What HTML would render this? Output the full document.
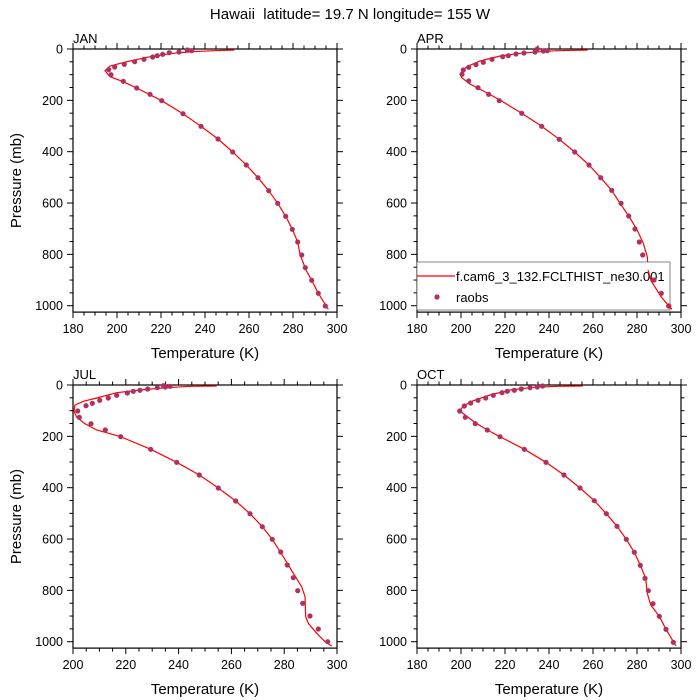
<!DOCTYPE html>
<html><head><meta charset="utf-8"><style>
body{margin:0;background:#fff}
svg{display:block;font-family:"Liberation Sans",sans-serif}
</style></head><body>
<svg id="s" width="700" height="700" xmlns="http://www.w3.org/2000/svg">
<text x="350" y="19" font-size="15" text-anchor="middle">Hawaii &#160;latitude= 19.7 N longitude= 155 W</text>
</svg>
<script>
const S=document.getElementById('s');let h='';
const P=[
 {x0:73,y0:49,tmin:180,name:'JAN',ox:0,oy:20,
  pts:[[575,92],[562,90],[537,96],[508,98],[488,103],[472,107],[458,111],[432,118],[404,125],[373,133],[344,141],[326,149],[333,164],[370,184],[410,204],[450,223],[485,242],[549,281],[603,319],[654,357],[698,396],[739,435],[774,473],[806,512],[833,550],[857,589],[877,628],[893,666],[905,705],[916,743],[935,781],[955,820],[976,858]],
  line:[[703,90],[640,92],[580,95],[520,100],[450,110],[380,125],[330,138],[315,152],[330,170],[370,185],[410,204],[485,242],[549,281],[603,319],[654,357],[698,396],[739,435],[774,473],[806,512],[833,550],[857,589],[877,628],[893,666],[900,703],[918,750],[935,781],[955,820],[985,868]]},
 {x0:417,y0:49,tmin:180,name:'APR',ox:400,oy:30,
  pts:[[412,57],[430,63],[442,62],[405,66],[372,69],[348,72],[325,77],[308,80],[276,88],[250,97],[228,104],[206,112],[190,120],[186,133],[206,153],[234,173],[266,193],[298,212],[365,250],[425,289],[478,328],[524,366],[567,405],[602,443],[635,481],[663,520],[686,558],[705,597],[718,636],[728,675],[742,713],[762,751],[784,790],[806,828]],
  line:[[563,60],[470,62],[420,65],[360,70],[300,78],[240,93],[200,110],[182,130],[185,143],[210,162],[250,183],[300,210],[365,250],[425,289],[478,328],[524,366],[567,405],[602,443],[635,481],[660,520],[686,558],[710,597],[730,640],[742,680],[744,713],[762,751],[784,790],[815,838]],legend:1},
 {x0:73,y0:385,tmin:200,name:'JUL',ox:0,oy:340,
  pts:[[983,905],[955,867],[930,828],[908,790],[893,752],[880,713],[862,675],[842,636],[817,598],[787,560],[750,521],[707,483],[655,444],[598,405],[530,367],[452,328],[362,290],[316,270],[273,251],[238,232],[233,213],[258,197],[277,190],[299,181],[325,174],[350,166],[382,159],[400,154],[420,151],[443,147],[472,143],[490,137],[496,141],[510,139]],
  line:[[650,138],[570,139],[500,143],[420,150],[350,158],[290,174],[250,184],[225,195],[222,213],[230,232],[255,251],[290,270],[362,290],[452,328],[530,367],[598,405],[655,444],[707,483],[750,521],[787,560],[817,598],[850,650],[880,700],[905,740],[915,770],[917,830],[925,850],[950,880],[975,905],[995,918]]},
 {x0:417,y0:385,tmin:180,name:'OCT',ox:400,oy:360,
  pts:[[428,78],[412,81],[390,83],[364,87],[343,91],[322,94],[306,98],[280,106],[257,114],[234,121],[212,129],[193,138],[179,153],[196,172],[226,191],[262,210],[300,230],[373,268],[438,307],[492,345],[540,384],[583,422],[619,461],[651,499],[679,538],[703,577],[721,616],[735,655],[745,692],[759,731],[778,769],[798,808],[820,847]],
  line:[[548,78],[470,79],[400,82],[330,90],[270,105],[220,122],[190,138],[180,152],[195,165],[226,188],[262,210],[300,230],[373,268],[438,307],[492,345],[540,384],[583,422],[619,461],[651,499],[679,538],[703,577],[721,616],[737,655],[742,700],[752,735],[778,769],[798,808],[828,858]]}
];
const W=264,K=0.2567;
for(const p of P){
 const x0=p.x0,y0=p.y0,yb=y0+1025*K,x1=x0+W;
 const tmax=300,sx=W/(tmax-p.tmin);
 h+=`<rect x="${x0}" y="${y0}" width="${W}" height="${(yb-y0).toFixed(1)}" fill="none" stroke="#000" stroke-width="1.2"/>`;
 for(let t=p.tmin;t<=tmax;t+=5){const x=x0+(t-p.tmin)*sx,maj=(t%20==0);
  h+=`<line x1="${x}" x2="${x}" y1="${yb}" y2="${yb+(maj?6:3.5)}" stroke="#000"/>`;
  h+=`<line x1="${x}" x2="${x}" y1="${y0}" y2="${y0-(maj?6:3.5)}" stroke="#000"/>`;
  if(maj)h+=`<text x="${x}" y="${yb+21}" font-size="12.5" text-anchor="middle">${t}</text>`;}
 for(let q=0;q<=1000;q+=50){const y=y0+q*K,maj=(q%200==0);
  h+=`<line x1="${x0}" x2="${x0-(maj?6:3.5)}" y1="${y}" y2="${y}" stroke="#000"/>`;
  h+=`<line x1="${x1}" x2="${x1+(maj?6:3.5)}" y1="${y}" y2="${y}" stroke="#000"/>`;
  if(maj)h+=`<text x="${x0-10}" y="${y+4.5}" font-size="12.5" text-anchor="end">${q}</text>`;}
 h+=`<text x="${x0}" y="${y0-6}" font-size="13">${p.name}</text>`;
 h+=`<text x="${x0+W/2}" y="${yb+46}" font-size="15" text-anchor="middle">Temperature (K)</text>`;
 if(x0<100)h+=`<text transform="translate(21,${(y0+yb)/2}) rotate(-90)" font-size="15" text-anchor="middle">Pressure (mb)</text>`;
 const f=a=>[(p.ox+a[0]/3).toFixed(1),(p.oy+a[1]/3).toFixed(1)];
 h+=`<polyline fill="none" stroke="#f00" stroke-width="1.2" points="${p.line.map(a=>f(a).join(',')).join(' ')}"/>`;
 for(const a of p.pts){const [x,y]=f(a);
  h+=`<circle cx="${x}" cy="${y}" r="2.6" fill="#b03060"/>`;}
 if(p.legend){
  h+=`<rect x="417" y="262" width="253" height="48" fill="#fff" stroke="#666" stroke-width="0.8"/>`;
  h+=`<line x1="417" x2="455" y1="276" y2="276" stroke="#f00" stroke-width="1.2"/>`;
  h+=`<text x="456" y="281" font-size="13">f.cam6_3_132.FCLTHIST_ne30.001</text>`;
  h+=`<circle cx="437" cy="297" r="2.6" fill="#b03060"/>`;
  h+=`<text x="456" y="302" font-size="13">raobs</text>`;
  h+=`<circle cx="668.7" cy="306" r="2.6" fill="#b03060"/>`;
  h+=`<polyline fill="none" stroke="#f00" stroke-width="1.2" points="648,270 651,280.7 661.3,297 671.7,309.3"/>`;
  h+=`<circle cx="654" cy="280" r="2.6" fill="#b03060"/><circle cx="661.3" cy="293.3" r="2.6" fill="#b03060"/>`;
 }
}
S.insertAdjacentHTML('beforeend',h);
</script>
</body></html>
